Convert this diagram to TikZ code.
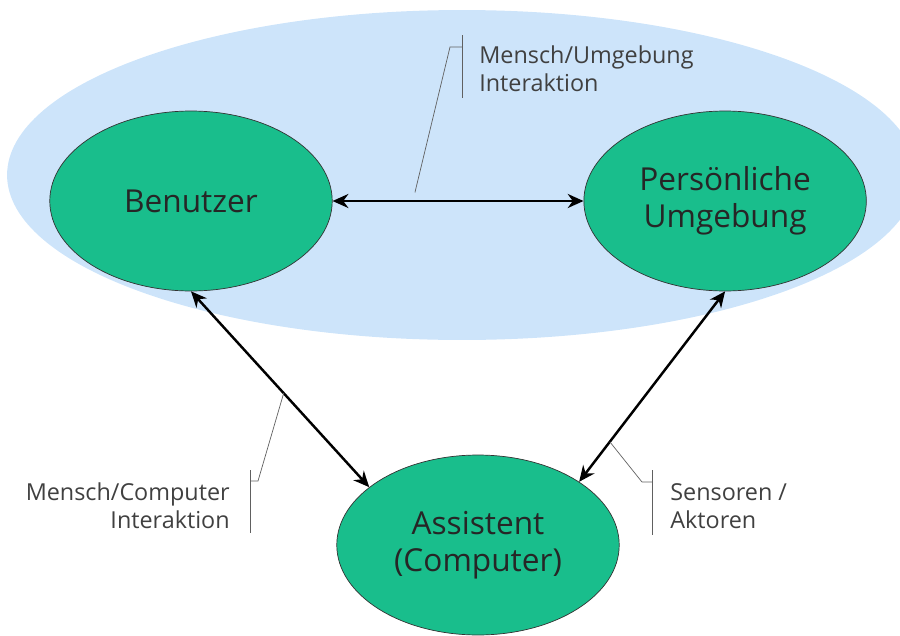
\documentclass[tikz,border=0pt]{standalone}
\usepackage{fontspec}
\setmainfont{Open Sans}
\usetikzlibrary{shapes.geometric,arrows.meta,positioning,calc}
\definecolor{hellblau}{RGB}{205,228,250}
\definecolor{tuerkis}{RGB}{25,190,140}
\tikzset{
  umfeld/.style={
    ellipse, fill=hellblau, minimum width=18.2cm, minimum height=6.6cm},
  instanz/.style={
    ellipse, draw=black!80, fill=tuerkis, align=center, inner sep=0pt,
    font=\fontsize{18}{21}\selectfont, text=black!85,
    minimum width=5.65cm, minimum height=3.6cm},
  pfeil/.style={{Stealth[length=9pt,width=8pt]}-{Stealth[length=9pt,width=8pt]},
    line width=1.4pt},
  hinweis/.style={draw=gray!75!black, line width=0.4pt},
  notiz/.style={font=\fontsize{13.3}{16}\selectfont, text=black!75, inner sep=0pt}
}

\begin{document}
\begin{tikzpicture}[x=0.02cm,y=-0.02cm]
\useasboundingbox (0,0) rectangle (900,636);

% Hintergrund
\node[umfeld] (umfeld) at (462,175) {};

\node[instanz] (benutzer) at (191,201) {Benutzer};
\node[instanz, right=5.02cm of benutzer] (umgebung) {Persönliche\\Umgebung};
\node[instanz] (assistent) at (478,545) {Assistent\\(Computer)};

% Beziehungen
\draw[pfeil] (benutzer.east) -- (umgebung.west) coordinate[pos=0.32] (mu);
\draw[pfeil] (benutzer.south) -- (assistent.152) coordinate[pos=0.52] (mc);
\draw[pfeil] (umgebung.south) -- (assistent.32) coordinate[pos=0.79] (sa);

% Mensch/Umgebung
\node[notiz, anchor=west, align=left] (mu-text) at (479,69)
      {Mensch/Umgebung\\Interaktion};
\coordinate (mu-knick) at ($(mu-text.west)+(-29,-22)$);
\draw[hinweis] ($(mu-text.west)+(-17,-34)$) -- ($(mu-text.west)+(-17,29)$);
\draw[hinweis, shorten <=5pt] (mu) -- (mu-knick) -- ++(12,0);

% Mensch/Computer
\node[notiz, anchor=east, align=right] (mc-text) at (230,506)
      {Mensch/Computer\\Interaktion};
\coordinate (mc-knick) at ($(mc-text.east)+(28,-25)$);
\draw[hinweis] ($(mc-text.east)+(20,-36)$) -- ($(mc-text.east)+(20,27)$);
\draw[hinweis] (mc) -- (mc-knick) -- ++(-8,0);

% Sensoren / Aktoren
\node[notiz, anchor=west, align=left] (sa-text) at (670,506)
      {Sensoren /\\Aktoren};
\coordinate (sa-knick) at ($(sa-text.west)+(-28,-24)$);
\draw[hinweis] ($(sa-text.west)+(-18,-36)$) -- ($(sa-text.west)+(-18,29)$);
\draw[hinweis] (sa) -- (sa-knick) -- ++(10,0);

\end{tikzpicture}
\end{document}
